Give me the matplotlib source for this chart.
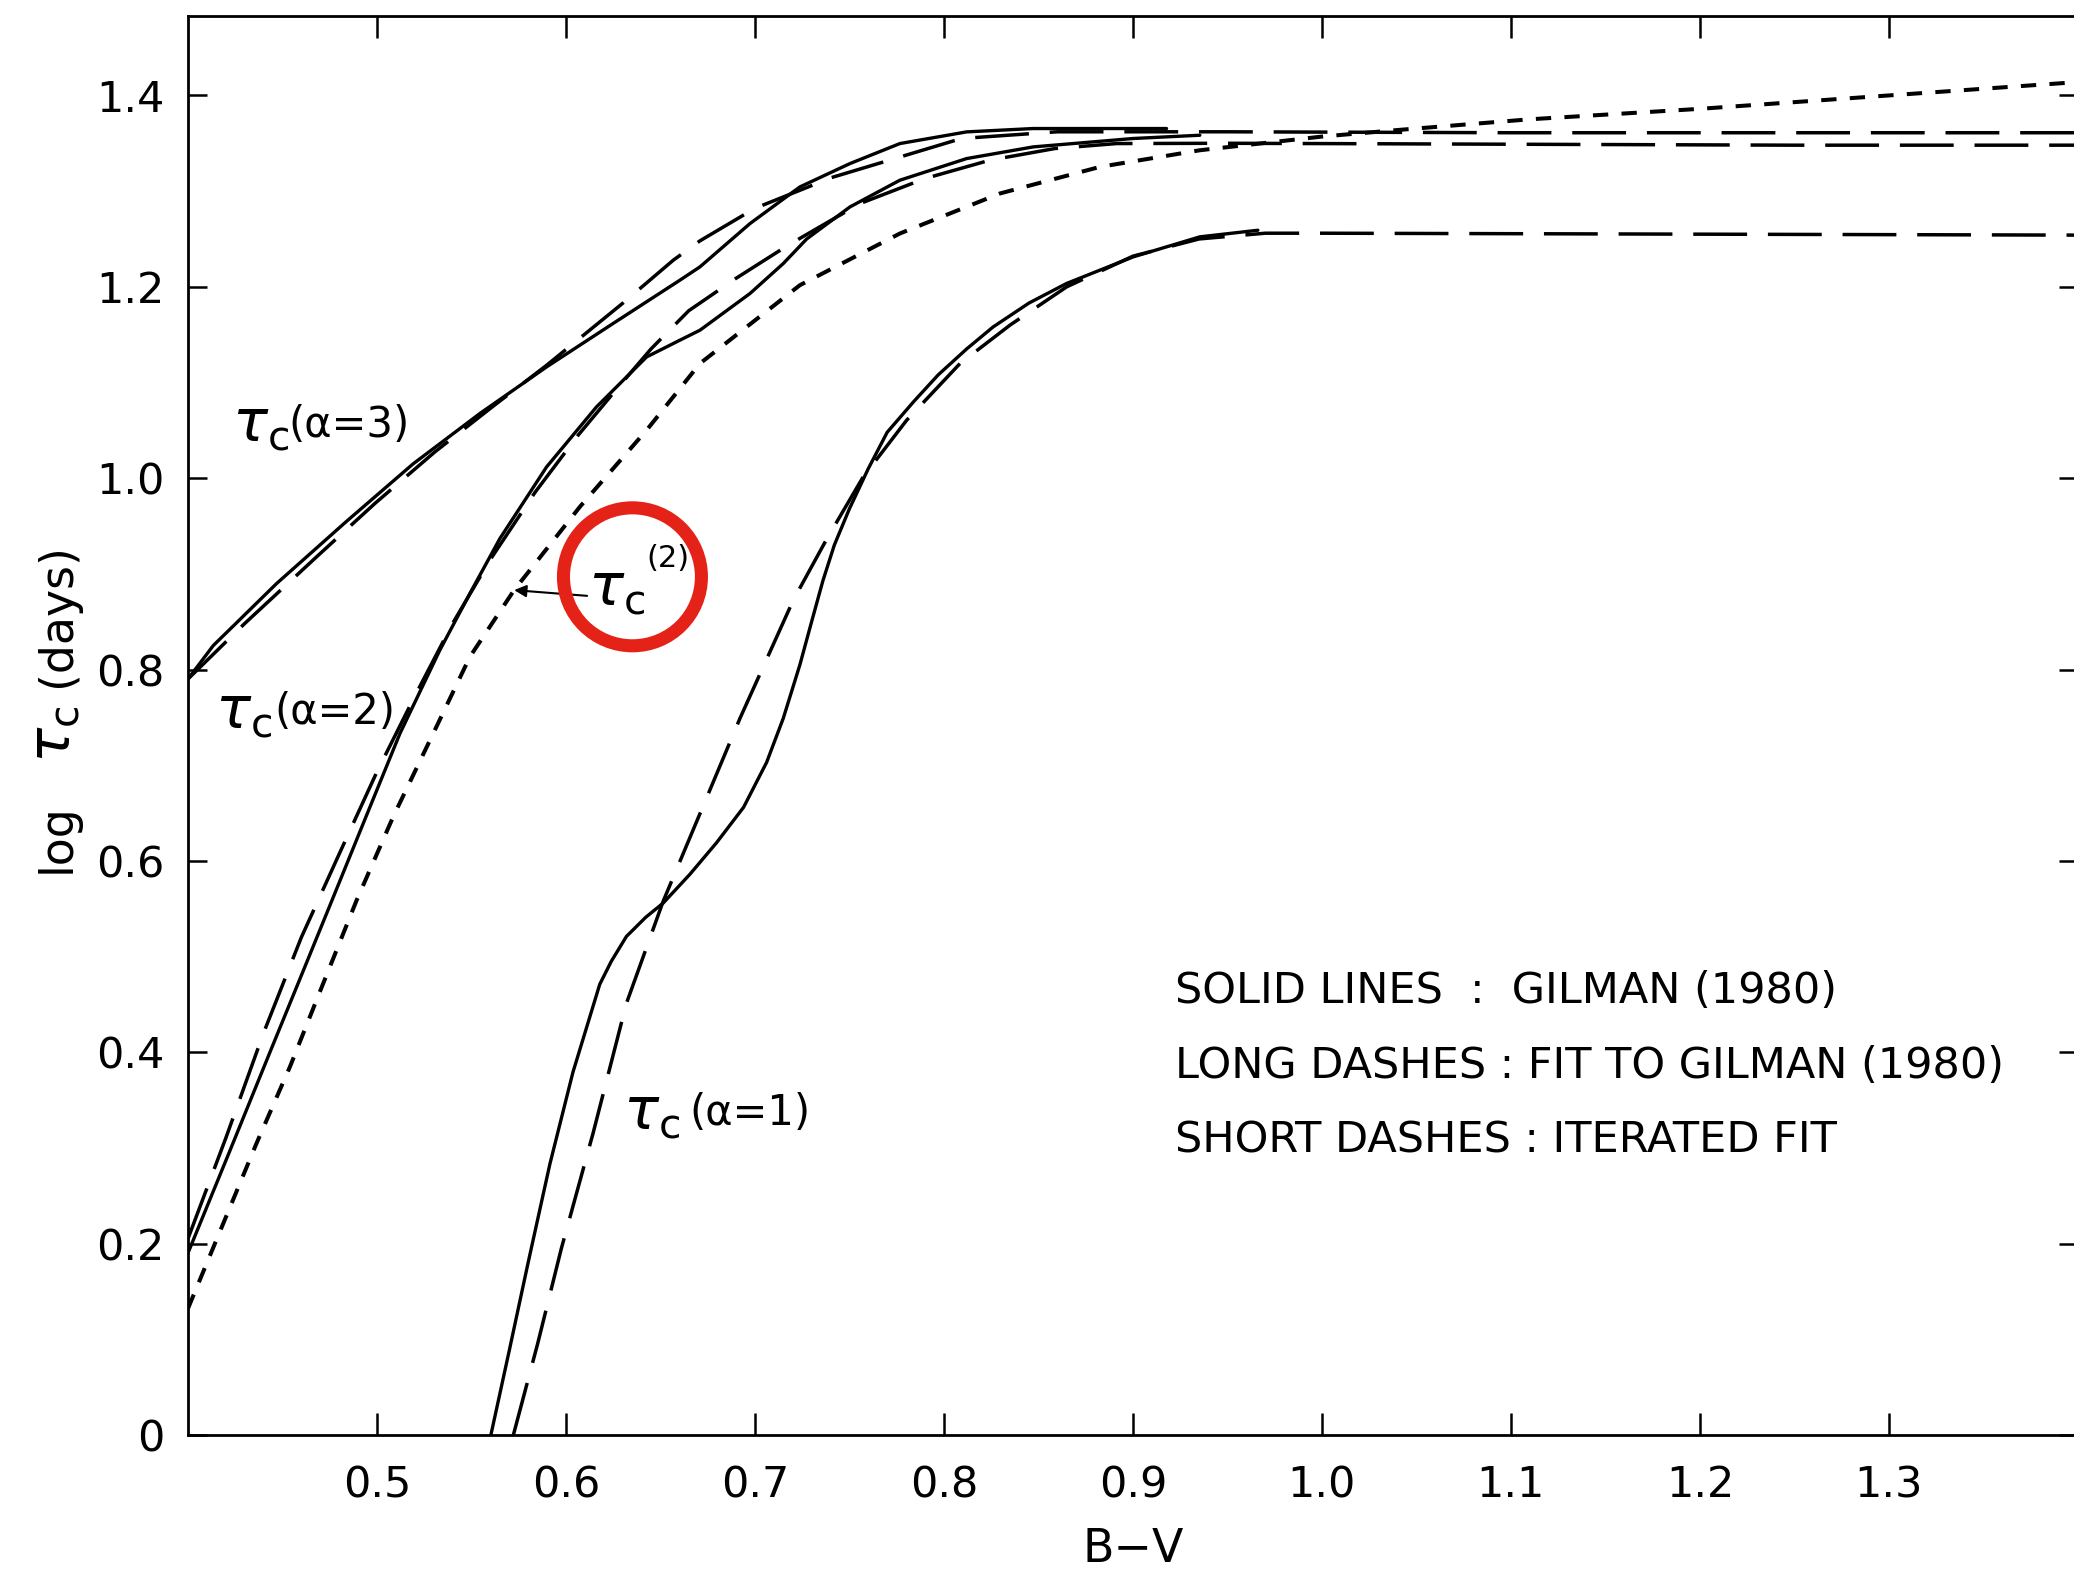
import matplotlib.pyplot as plt
from matplotlib.patches import Ellipse

# convective turnover time vs B-V

# alpha = 3
bv_a3_gilman = [0.400, 0.4134, 0.447, 0.484, 0.5192, 0.5545, 0.5898, 0.625, 0.6603,
                0.6709, 0.6974, 0.7238, 0.7503, 0.7767, 0.812, 0.8472, 0.9178]
tau_a3_gilman = [0.790, 0.825, 0.890, 0.955, 1.015, 1.0676, 1.1163, 1.1617, 1.2069,
                 1.2208, 1.2661, 1.3044, 1.3288, 1.3497, 1.3619, 1.3654, 1.3654]
bv_a3_fit = [0.400, 0.430, 0.4681, 0.4989, 0.5307, 0.5615, 0.5898, 0.6303, 0.6568,
             0.6709, 0.700, 0.7406, 0.777, 0.8093, 0.860, 0.950, 1.100, 1.250, 1.400]
tau_a3_fit = [0.790, 0.848, 0.9178, 0.9735, 1.0275, 1.0752, 1.118, 1.1832, 1.2278,
              1.248, 1.282, 1.3142, 1.3358, 1.355, 1.362, 1.362, 1.361, 1.361, 1.361]

# alpha = 2
bv_a2_gilman = [0.400, 0.4222, 0.4434, 0.461, 0.4769, 0.4946, 0.5122, 0.5333, 0.5492,
                0.5651, 0.5898, 0.6162, 0.6427, 0.6603, 0.6709, 0.6974, 0.715, 0.7274,
                0.7503, 0.7767, 0.812, 0.8472, 0.9002, 0.9354]
tau_a2_gilman = [0.190, 0.297, 0.400, 0.485, 0.562, 0.648, 0.7332, 0.8203, 0.8795,
                 0.937, 1.0118, 1.0745, 1.1267, 1.1442, 1.1546, 1.193, 1.2243, 1.250,
                 1.2835, 1.3114, 1.334, 1.3462, 1.355, 1.3584]
bv_a2_fit = [0.400, 0.420, 0.440, 0.460, 0.480, 0.500, 0.520, 0.540, 0.560, 0.5836,
             0.6065, 0.6268, 0.645, 0.665, 0.6898, 0.7176, 0.7556, 0.7899, 0.8243,
             0.8587, 0.8914, 0.950, 1.100, 1.250, 1.400]
tau_a2_fit = [0.205, 0.310, 0.420, 0.520, 0.607, 0.693, 0.772, 0.848, 0.915, 0.985,
              1.045, 1.093, 1.135, 1.175, 1.2086, 1.2435, 1.287, 1.3131, 1.3323,
              1.3445, 1.3497, 1.350, 1.349, 1.348, 1.348]

# alpha = 1
bv_a1_gilman = [0.5603, 0.570, 0.580, 0.5915, 0.6037, 0.6179, 0.624, 0.632, 0.6422,
                0.6515, 0.6656, 0.6797, 0.694, 0.7062, 0.715, 0.7238, 0.730, 0.736,
                0.742, 0.750, 0.760, 0.770, 0.784, 0.797, 0.812, 0.826, 0.845, 0.8649,
                0.9002, 0.9354, 0.9661]
tau_a1_gilman = [0.000, 0.088, 0.180, 0.283, 0.379, 0.471, 0.495, 0.521, 0.541,
                 0.556, 0.586, 0.619, 0.656, 0.703, 0.749, 0.805, 0.850, 0.893,
                 0.930, 0.968, 1.010, 1.048, 1.080, 1.108, 1.135, 1.158, 1.183, 1.2035,
                 1.2313, 1.2522, 1.2591]
bv_a1_fit = [0.5722, 0.585, 0.5976, 0.6144, 0.632, 0.6515, 0.6921, 0.7203, 0.7309,
             0.7379, 0.7573, 0.7803, 0.8085, 0.835, 0.865, 0.900, 0.935, 0.970, 1.000,
             1.200, 1.400]
tau_a1_fit = [0.000, 0.095, 0.195, 0.3156, 0.451, 0.558, 0.749, 0.8725, 0.9108,
              0.936, 1.0014, 1.0606, 1.1198, 1.160, 1.200, 1.232, 1.250, 1.256, 1.256,
              1.255, 1.254]

# iterated fit tau_c^(2)
bv_iter = [0.400, 0.4363, 0.454, 0.4716, 0.4893, 0.5086, 0.5298, 0.5492, 0.5726,
           0.6074, 0.6427, 0.6709, 0.7238, 0.7767, 0.8296, 0.8825, 0.9354, 1.000,
           1.041, 1.1095, 1.200, 1.300, 1.400]
tau_iter = [0.132, 0.3048, 0.3849, 0.472, 0.559, 0.6461, 0.7332, 0.8133, 0.883,
            0.9701, 1.0502, 1.1198, 1.2017, 1.2557, 1.2975, 1.3253, 1.3427, 1.357,
            1.364, 1.375, 1.386, 1.400, 1.414]

xtick_vals = [0.5, 0.6, 0.7, 0.8, 0.9, 1.0, 1.1, 1.2, 1.3]
xtick_labels = ["0.5", "0.6", "0.7", "0.8", "0.9", "1.0", "1.1", "1.2", "1.3"]
ytick_vals = [0.0, 0.2, 0.4, 0.6, 0.8, 1.0, 1.2, 1.4]
ytick_labels = ["0", "0.2", "0.4", "0.6", "0.8", "1.0", "1.2", "1.4"]

legend_lines = ["SOLID LINES  :  GILMAN (1980)",
                "LONG DASHES : FIT TO GILMAN (1980)",
                "SHORT DASHES : ITERATED FIT"]

TAU = r"$\tau_{\mathrm{c}}$"

fig = plt.figure(figsize=(20.74, 15.70), dpi=100)
ax = fig.add_axes([0.0906, 0.086, 0.9113, 0.9038])

solid = dict(color="black", lw=2.4, solid_capstyle="round")
longd = dict(color="black", lw=2.5, dashes=(15.5, 6))
shortd = dict(color="black", lw=2.9, dashes=(3.8, 3.3))

ax.plot(bv_a3_gilman, tau_a3_gilman, **solid)
ax.plot(bv_a3_fit, tau_a3_fit, **longd)
ax.plot(bv_a2_gilman, tau_a2_gilman, **solid)
ax.plot(bv_a2_fit, tau_a2_fit, **longd)
ax.plot(bv_a1_gilman, tau_a1_gilman, **solid)
ax.plot(bv_a1_fit, tau_a1_fit, **longd)
ax.plot(bv_iter, tau_iter, **shortd)

ax.set_xlim(0.4, 1.4)
ax.set_ylim(0, 1.483)
ax.set_xticks(xtick_vals)
ax.set_xticklabels(xtick_labels)
ax.set_yticks(ytick_vals)
ax.set_yticklabels(ytick_labels)
ax.tick_params(axis="x", direction="in", length=16, width=1.8, top=True,
               labelsize=31, pad=21)
ax.tick_params(axis="y", direction="in", length=14, width=1.8, right=True,
               labelsize=31, pad=17)
for sp in ax.spines.values():
    sp.set_linewidth(2)

ax.set_xlabel("B\u2212V", fontsize=33)
ax.xaxis.set_label_coords(0.5, -0.0648)

# y label in pieces so the tau can be drawn large like the original
ylab = dict(rotation=90, rotation_mode="anchor", ha="left", va="baseline")
fig.text(0.03375, 0.4439, "log", fontsize=33, **ylab)
fig.text(0.03375, 0.5140, TAU, fontsize=42, **ylab)
fig.text(0.03375, 0.5624, "(days)", fontsize=33, **ylab)


# curve labels: large tau_c, then the bracket placed just after it
def tau_label(x, y, rest, dx, dy=5, corner=(1, 0), size=30):
    t = ax.text(x, y, TAU, fontsize=42, ha="left", va="baseline")
    ax.annotate(rest, xy=corner, xycoords=t, xytext=(dx, dy),
                textcoords="offset points", ha="left", va="bottom", fontsize=size)


tau_label(0.4231, 1.039, "(α=3)", 0)
tau_label(0.4143, 0.739, "(α=2)", 2)
tau_label(0.6300, 0.320, "(α=1)", 7)
tau_label(0.6118, 0.8673, "(2)", 0.5, dy=-9, corner=(1, 1), size=22)
ax.annotate("", xy=(0.5726, 0.883), xytext=(0.6112, 0.877),
            arrowprops=dict(arrowstyle="-|>", color="black", lw=1.5,
                            mutation_scale=18, shrinkA=0, shrinkB=0))

# key
for ypos, line in zip([0.464, 0.386, 0.3075], legend_lines):
    ax.text(0.922, ypos, line, fontsize=31, ha="left", va="center")

# red highlight ring
ax.add_patch(Ellipse((0.6352, 0.8969), width=0.073, height=0.1442, fill=False,
                     ec="#e52218", lw=9.4, zorder=10))

fig.savefig("out.png", dpi=100)
